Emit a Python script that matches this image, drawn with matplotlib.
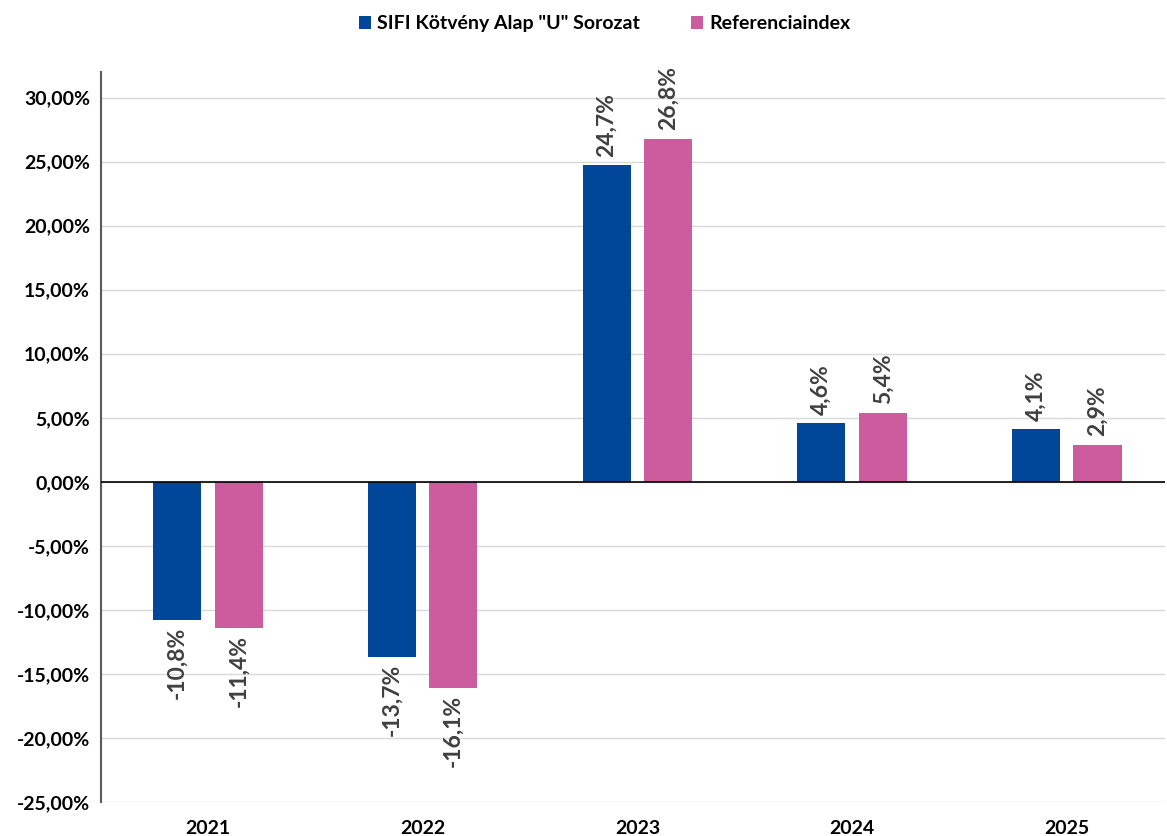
import matplotlib.pyplot as plt
import numpy as np
from matplotlib.ticker import FuncFormatter

plt.rcParams['font.family'] = ['Lato', 'DejaVu Sans']
plt.rcParams['font.weight'] = 'bold'

# 数据
years = ['2021', '2022', '2023', '2024', '2025']
fund = [-10.8, -13.7, 24.7, 4.6, 4.1]
index = [-11.4, -16.1, 26.8, 5.4, 2.9]
series_names = ['SIFI Kötvény Alap "U" Sorozat', 'Referenciaindex']
colors = ['#00479A', '#CC5C9E']

fig = plt.figure(figsize=(11.67, 8.36), dpi=100)
ax = fig.add_axes([0.0866, 0.0407, 0.9114, 0.8732])

x = np.arange(len(years))
w = 0.224
off = 0.143
for vals, dx, c, name in [(fund, -off, colors[0], series_names[0]),
                          (index, off, colors[1], series_names[1])]:
    bars = ax.bar(x + dx, vals, width=w, color=c, label=name, zorder=3)
    for b, v in zip(bars, vals):
        txt = f'{v:.1f}%'.replace('.', ',')
        pos = v >= 0
        ax.annotate(txt, (b.get_x() + b.get_width() / 2, v), xytext=(0, 6 if pos else -5),
                    textcoords='offset points', rotation=90, ha='center',
                    va='bottom' if pos else 'top',
                    fontsize=16.5, color='#404040', fontweight='bold')

ax.set_xlim(-0.498, 4.456)
ax.set_ylim(-25, 32)
ax.set_yticks(np.arange(-25, 31, 5))
ax.yaxis.set_major_formatter(FuncFormatter(lambda v, p: f'{v:.2f}%'.replace('.', ',')))
ax.set_xticks(x)
ax.set_xticklabels(years)
ax.tick_params(axis='both', length=0, labelsize=14)
ax.tick_params(axis='x', pad=13)
ax.tick_params(axis='y', pad=8)

ax.grid(axis='y', color='#D9D9D9', linewidth=1, zorder=0)
ax.axhline(0, color='black', linewidth=1.2, zorder=4)
for s in ['top', 'right', 'bottom']:
    ax.spines[s].set_visible(False)
ax.spines['left'].set_color('#595959')
ax.spines['left'].set_linewidth(1.5)

fig.legend(loc='upper center', bbox_to_anchor=(0.518, 1.003), ncol=2, frameon=False,
           fontsize=14, handlelength=0.65, handleheight=0.65, columnspacing=2.6,
           handletextpad=0.3)

fig.savefig('out.png', dpi=100)
